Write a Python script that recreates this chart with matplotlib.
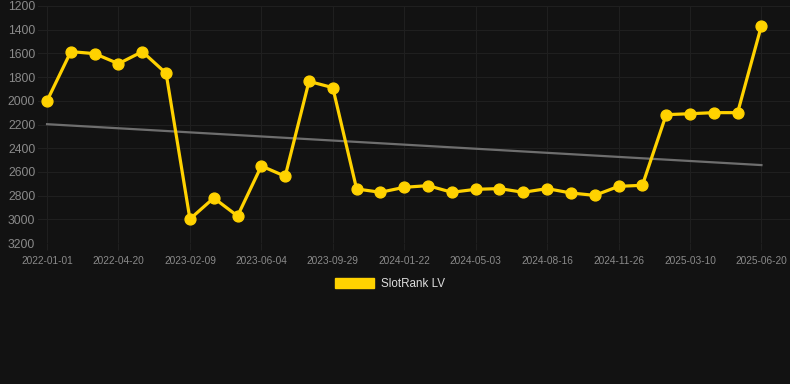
import matplotlib.pyplot as plt
import matplotlib.patches as mpatches
import numpy as np

tick_labels = ['2022-01-01', '2022-04-20', '2023-02-09', '2023-06-04', '2023-09-29', '2024-01-22',
               '2024-05-03', '2024-08-16', '2024-11-26', '2025-03-10', '2025-06-20']
rank = [2000, 1585, 1602, 1687, 1585, 1768, 2998, 2820, 2972, 2550, 2637,
        1836, 1889, 2744, 2772, 2730, 2716, 2772, 2747, 2741, 2772,
        2741, 2778, 2798, 2722, 2713, 2117, 2109, 2100, 2100, 1366]

bg = '#121212'
yellow = '#FFD200'
plt.rcParams['font.family'] = ['Liberation Sans', 'DejaVu Sans']

x = np.arange(len(rank))
slope, icpt = np.polyfit(x, rank, 1)

fig = plt.figure(figsize=(7.9, 3.84), dpi=100, facecolor=bg)
ax = fig.add_axes([38/790, 1 - 243/384, 752/790, 237/384], facecolor=bg)

ax.plot(x, slope * x + icpt, color='#6e6e6e', lw=1.6, zorder=2)
ax.plot(x, rank, '-o', color=yellow, lw=2.3, markersize=7.8, zorder=3)

ax.set_ylim(3200, 1200)
ax.set_yticks(range(1200, 3201, 200))
ax.set_xlim(-0.38, 31.2)
ax.set_xticks(x[::3])
ax.set_xticklabels(tick_labels)

ax.grid(True, color='#1f1f1f', lw=0.8)
ax.set_axisbelow(True)
for s in ax.spines.values():
    s.set_visible(False)
ax.tick_params(axis='x', colors='#1f1f1f', labelcolor='#8a8a8a', labelsize=7.3, length=5, pad=4)
ax.tick_params(axis='y', length=0, labelcolor='#8a8a8a', labelsize=8.7, pad=2)

handle = mpatches.Patch(color=yellow, label='SlotRank LV')
leg = fig.legend(handles=[handle], loc='center', bbox_to_anchor=(390/790, 1 - 284/384),
                 frameon=False, fontsize=8.4, handlelength=3.3, handleheight=0.9,
                 handletextpad=0.6)
for t in leg.get_texts():
    t.set_color('#dddddd')

fig.savefig('out.png', dpi=100, facecolor=bg)
